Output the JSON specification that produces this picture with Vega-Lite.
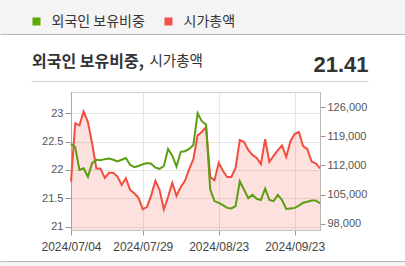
{
  "$schema": "https://vega.github.io/schema/vega-lite/v6.json",
  "background": "white",
  "padding": 0,
  "spacing": 0,
  "bounds": "full",
  "config": {"font": "Liberation Sans"},
  "datasets": {
    "d": [
      {"date": "2024/07/04", "fr": 22.46, "cap": 108100},
      {"date": "2024/07/05", "fr": 22.40, "cap": 122100},
      {"date": "2024/07/08", "fr": 22.00, "cap": 121600},
      {"date": "2024/07/09", "fr": 22.03, "cap": 124900},
      {"date": "2024/07/10", "fr": 21.88, "cap": 122400},
      {"date": "2024/07/11", "fr": 22.12, "cap": 117300},
      {"date": "2024/07/12", "fr": 22.18, "cap": 111300},
      {"date": "2024/07/15", "fr": 22.17, "cap": 111200},
      {"date": "2024/07/16", "fr": 22.19, "cap": 109000},
      {"date": "2024/07/17", "fr": 22.20, "cap": 110200},
      {"date": "2024/07/18", "fr": 22.18, "cap": 110200},
      {"date": "2024/07/19", "fr": 22.15, "cap": 109300},
      {"date": "2024/07/22", "fr": 22.18, "cap": 107300},
      {"date": "2024/07/23", "fr": 22.21, "cap": 108900},
      {"date": "2024/07/24", "fr": 22.09, "cap": 106100},
      {"date": "2024/07/25", "fr": 22.05, "cap": 105300},
      {"date": "2024/07/26", "fr": 22.07, "cap": 104200},
      {"date": "2024/07/29", "fr": 22.10, "cap": 101500},
      {"date": "2024/07/30", "fr": 22.12, "cap": 102000},
      {"date": "2024/07/31", "fr": 22.11, "cap": 104800},
      {"date": "2024/08/01", "fr": 22.04, "cap": 108300},
      {"date": "2024/08/02", "fr": 22.02, "cap": 106100},
      {"date": "2024/08/05", "fr": 22.07, "cap": 101400},
      {"date": "2024/08/06", "fr": 22.37, "cap": 104400},
      {"date": "2024/08/07", "fr": 22.25, "cap": 107800},
      {"date": "2024/08/08", "fr": 22.06, "cap": 104700},
      {"date": "2024/08/09", "fr": 22.32, "cap": 106800},
      {"date": "2024/08/12", "fr": 22.33, "cap": 108300},
      {"date": "2024/08/13", "fr": 22.37, "cap": 111100},
      {"date": "2024/08/14", "fr": 22.44, "cap": 113500},
      {"date": "2024/08/16", "fr": 23.00, "cap": 119200},
      {"date": "2024/08/19", "fr": 22.86, "cap": 120000},
      {"date": "2024/08/20", "fr": 22.80, "cap": 121200},
      {"date": "2024/08/21", "fr": 21.65, "cap": 109200},
      {"date": "2024/08/22", "fr": 21.45, "cap": 108400},
      {"date": "2024/08/23", "fr": 21.42, "cap": 112600},
      {"date": "2024/08/26", "fr": 21.38, "cap": 110700},
      {"date": "2024/08/27", "fr": 21.33, "cap": 109200},
      {"date": "2024/08/28", "fr": 21.32, "cap": 109200},
      {"date": "2024/08/29", "fr": 21.36, "cap": 111400},
      {"date": "2024/08/30", "fr": 21.80, "cap": 118100},
      {"date": "2024/09/02", "fr": 21.65, "cap": 117600},
      {"date": "2024/09/03", "fr": 21.50, "cap": 115700},
      {"date": "2024/09/04", "fr": 21.56, "cap": 114500},
      {"date": "2024/09/05", "fr": 21.49, "cap": 113800},
      {"date": "2024/09/06", "fr": 21.47, "cap": 112300},
      {"date": "2024/09/09", "fr": 21.67, "cap": 118300},
      {"date": "2024/09/10", "fr": 21.47, "cap": 112800},
      {"date": "2024/09/11", "fr": 21.45, "cap": 114300},
      {"date": "2024/09/12", "fr": 21.56, "cap": 115600},
      {"date": "2024/09/13", "fr": 21.47, "cap": 116800},
      {"date": "2024/09/19", "fr": 21.31, "cap": 114000},
      {"date": "2024/09/20", "fr": 21.32, "cap": 117800},
      {"date": "2024/09/23", "fr": 21.33, "cap": 119500},
      {"date": "2024/09/24", "fr": 21.37, "cap": 120000},
      {"date": "2024/09/25", "fr": 21.42, "cap": 116600},
      {"date": "2024/09/26", "fr": 21.44, "cap": 115900},
      {"date": "2024/09/27", "fr": 21.46, "cap": 112900},
      {"date": "2024/09/30", "fr": 21.46, "cap": 112500},
      {"date": "2024/10/02", "fr": 21.41, "cap": 111300}
    ]
  },
  "vconcat": [
    {
      "width": 405,
      "height": 34,
      "view": {"fill": "#f4f4f4", "stroke": null},
      "data": {"values": []},
      "mark": {"type": "point"},
      "encoding": {
        "x": {
          "datum": 0, "type": "quantitative", "scale": {"domain": [0, 1]},
          "axis": {"orient": "bottom", "domain": true, "domainColor": "#b8b8b8", "labels": false, "ticks": false, "grid": false, "title": null, "minExtent": 0, "maxExtent": 0}
        }
      }
    },
    {
      "spacing": 0,
      "bounds": "full",
      "hconcat": [
        {
          "width": 31, "height": 1,
          "view": {"fill": null, "stroke": null},
          "data": {"values": []},
          "mark": {"type": "point"}
        },
        {
          "width": 337,
          "height": 47,
          "view": {"fill": null, "stroke": null},
          "data": {"values": []},
          "layer": [
            {
              "mark": {"type": "point"},
              "encoding": {
                "x": {
                  "datum": 0, "type": "quantitative", "scale": {"domain": [0, 1]},
                  "axis": {"orient": "bottom", "domain": true, "domainColor": "#d0d0d0", "labels": false, "ticks": false, "grid": false,
                    "title": "시가총액", "titleX": 118, "titleY": -20, "titleAlign": "left", "titleBaseline": "middle", "titleAngle": 0,
                    "titleFont": "Noto Sans CJK KR", "titleFontSize": 14.5, "titleFontWeight": "normal", "titleColor": "#333333",
                    "minExtent": 10, "maxExtent": 10}
                },
                "y": {
                  "datum": 0, "type": "quantitative", "scale": {"domain": [0, 1]},
                  "axis": {"orient": "left", "domain": false, "labels": false, "ticks": false, "grid": false,
                    "title": "외국인 보유비중,", "titleX": 0.5, "titleY": 27, "titleAlign": "left", "titleBaseline": "middle", "titleAngle": 0,
                    "titleFont": "Noto Sans CJK KR", "titleFontSize": 16, "titleFontWeight": "bold", "titleColor": "#333333",
                    "minExtent": 0, "maxExtent": 0}
                }
              }
            },
            {
              "mark": {"type": "point"},
              "encoding": {
                "y": {
                  "datum": 0, "type": "quantitative", "scale": {"domain": [0, 1]},
                  "axis": {"orient": "right", "domain": false, "labels": false, "ticks": false, "grid": false,
                    "title": "21.41", "titleX": 0, "titleY": 37.7, "titleAlign": "right", "titleBaseline": "alphabetic", "titleAngle": 0,
                    "titleFont": "Liberation Sans", "titleFontSize": 22, "titleFontWeight": "bold", "titleColor": "#333333",
                    "minExtent": 0, "maxExtent": 0}
                }
              }
            }
          ],
          "resolve": {"scale": {"y": "independent"}, "axis": {"y": "independent"}}
        }
      ]
    },
    {
      "spacing": 0,
      "bounds": "full",
      "hconcat": [
        {
          "width": 1, "height": 1,
          "view": {"fill": null, "stroke": null},
          "data": {"values": []},
          "mark": {"type": "point"}
        },
        {
          "width": 249,
          "height": 138,
          "view": {"fill": "white", "stroke": "#cfcfcf"},
          "data": {"name": "d"},
          "encoding": {
            "x": {
              "field": "date", "type": "ordinal", "scale": {"type": "point", "padding": 0},
              "axis": {
                "labelExpr": "indexof(['2024/07/04','2024/07/29','2024/08/23','2024/09/23'], datum.value) >= 0 ? datum.value : ''",
                "tickOpacity": {"condition": {"test": "indexof(['2024/07/04','2024/07/29','2024/08/23','2024/09/23'], datum.value) >= 0", "value": 1}, "value": 0},
                "gridOpacity": {"condition": {"test": "indexof(['2024/07/04','2024/07/29','2024/08/23','2024/09/23'], datum.value) >= 0", "value": 1}, "value": 0},
                "labelAngle": 0, "labelOverlap": false, "labelBound": false,
                "grid": true, "gridColor": "#e6e6e6", "domainColor": "#c4c4c4", "tickColor": "#999999", "tickSize": 5,
                "labelPadding": 6, "labelFont": "Liberation Sans", "labelFontSize": 12, "labelColor": "#444444", "title": null,
                "minExtent": 30, "maxExtent": 30}
            }
          },
          "layer": [
            {
              "encoding": {
                "y": {
                  "field": "cap", "type": "quantitative", "scale": {"domain": [96490, 129600], "nice": false, "zero": false},
                  "axis": {"orient": "right", "values": [98000, 105000, 112000, 119000, 126000], "format": ",d", "grid": false,
                    "domainColor": "#b8b8b8", "tickColor": "#999999", "tickSize": 5, "labelPadding": 2,
                    "labelFont": "Liberation Sans", "labelFontSize": 11, "labelColor": "#555555", "title": null,
                    "minExtent": 86, "maxExtent": 86}
                }
              },
              "layer": [
                {"mark": {"type": "area", "color": "#f04e3e", "fillOpacity": 0.17}, "encoding": {"y2": {"datum": 96490}}},
                {"mark": {"type": "line", "color": "#f04e3e", "strokeWidth": 2}}
              ]
            },
            {
              "mark": {"type": "line", "color": "#5b9e12", "strokeWidth": 2},
              "encoding": {
                "y": {
                  "field": "fr", "type": "quantitative", "scale": {"domain": [20.94, 23.375], "nice": false, "zero": false},
                  "axis": {"orient": "left", "values": [21, 21.5, 22, 22.5, 23], "format": "~g", "grid": true, "gridColor": "#e6e6e6",
                    "domainColor": "#aaaaaa", "tickColor": "#999999", "tickSize": 6, "labelPadding": 2,
                    "labelFont": "Liberation Sans", "labelFontSize": 11, "labelColor": "#555555", "title": null,
                    "minExtent": 69, "maxExtent": 69}
                }
              }
            },
            {
              "data": {"values": []},
              "mark": {"type": "square"},
              "encoding": {
                "fill": {
                  "field": "s", "type": "nominal",
                  "scale": {"domain": ["외국인 보유비중", "시가총액"], "range": ["#5bab00", "#f0524a"]},
                  "legend": {"orient": "none", "legendX": 29.5, "legendY": 14.5, "direction": "horizontal", "title": null,
                    "symbolType": "square", "symbolSize": 64, "symbolStrokeWidth": 0, "symbolOpacity": 1,
                    "labelFont": "Noto Sans CJK KR", "labelFontSize": 14, "labelColor": "#333333", "labelOffset": 8,
                    "columnPadding": 16, "padding": 0}
                }
              }
            }
          ],
          "resolve": {"scale": {"y": "independent"}}
        }
      ]
    },
    {
      "width": 405,
      "height": 6,
      "view": {"fill": "#f4f4f4", "stroke": null},
      "data": {"values": []},
      "mark": {"type": "point"},
      "encoding": {
        "x": {
          "datum": 0, "type": "quantitative", "scale": {"domain": [0, 1]},
          "axis": {"orient": "top", "domain": true, "domainColor": "#b8b8b8", "labels": false, "ticks": false, "grid": false, "title": null, "minExtent": 0, "maxExtent": 0}
        }
      }
    }
  ]
}
